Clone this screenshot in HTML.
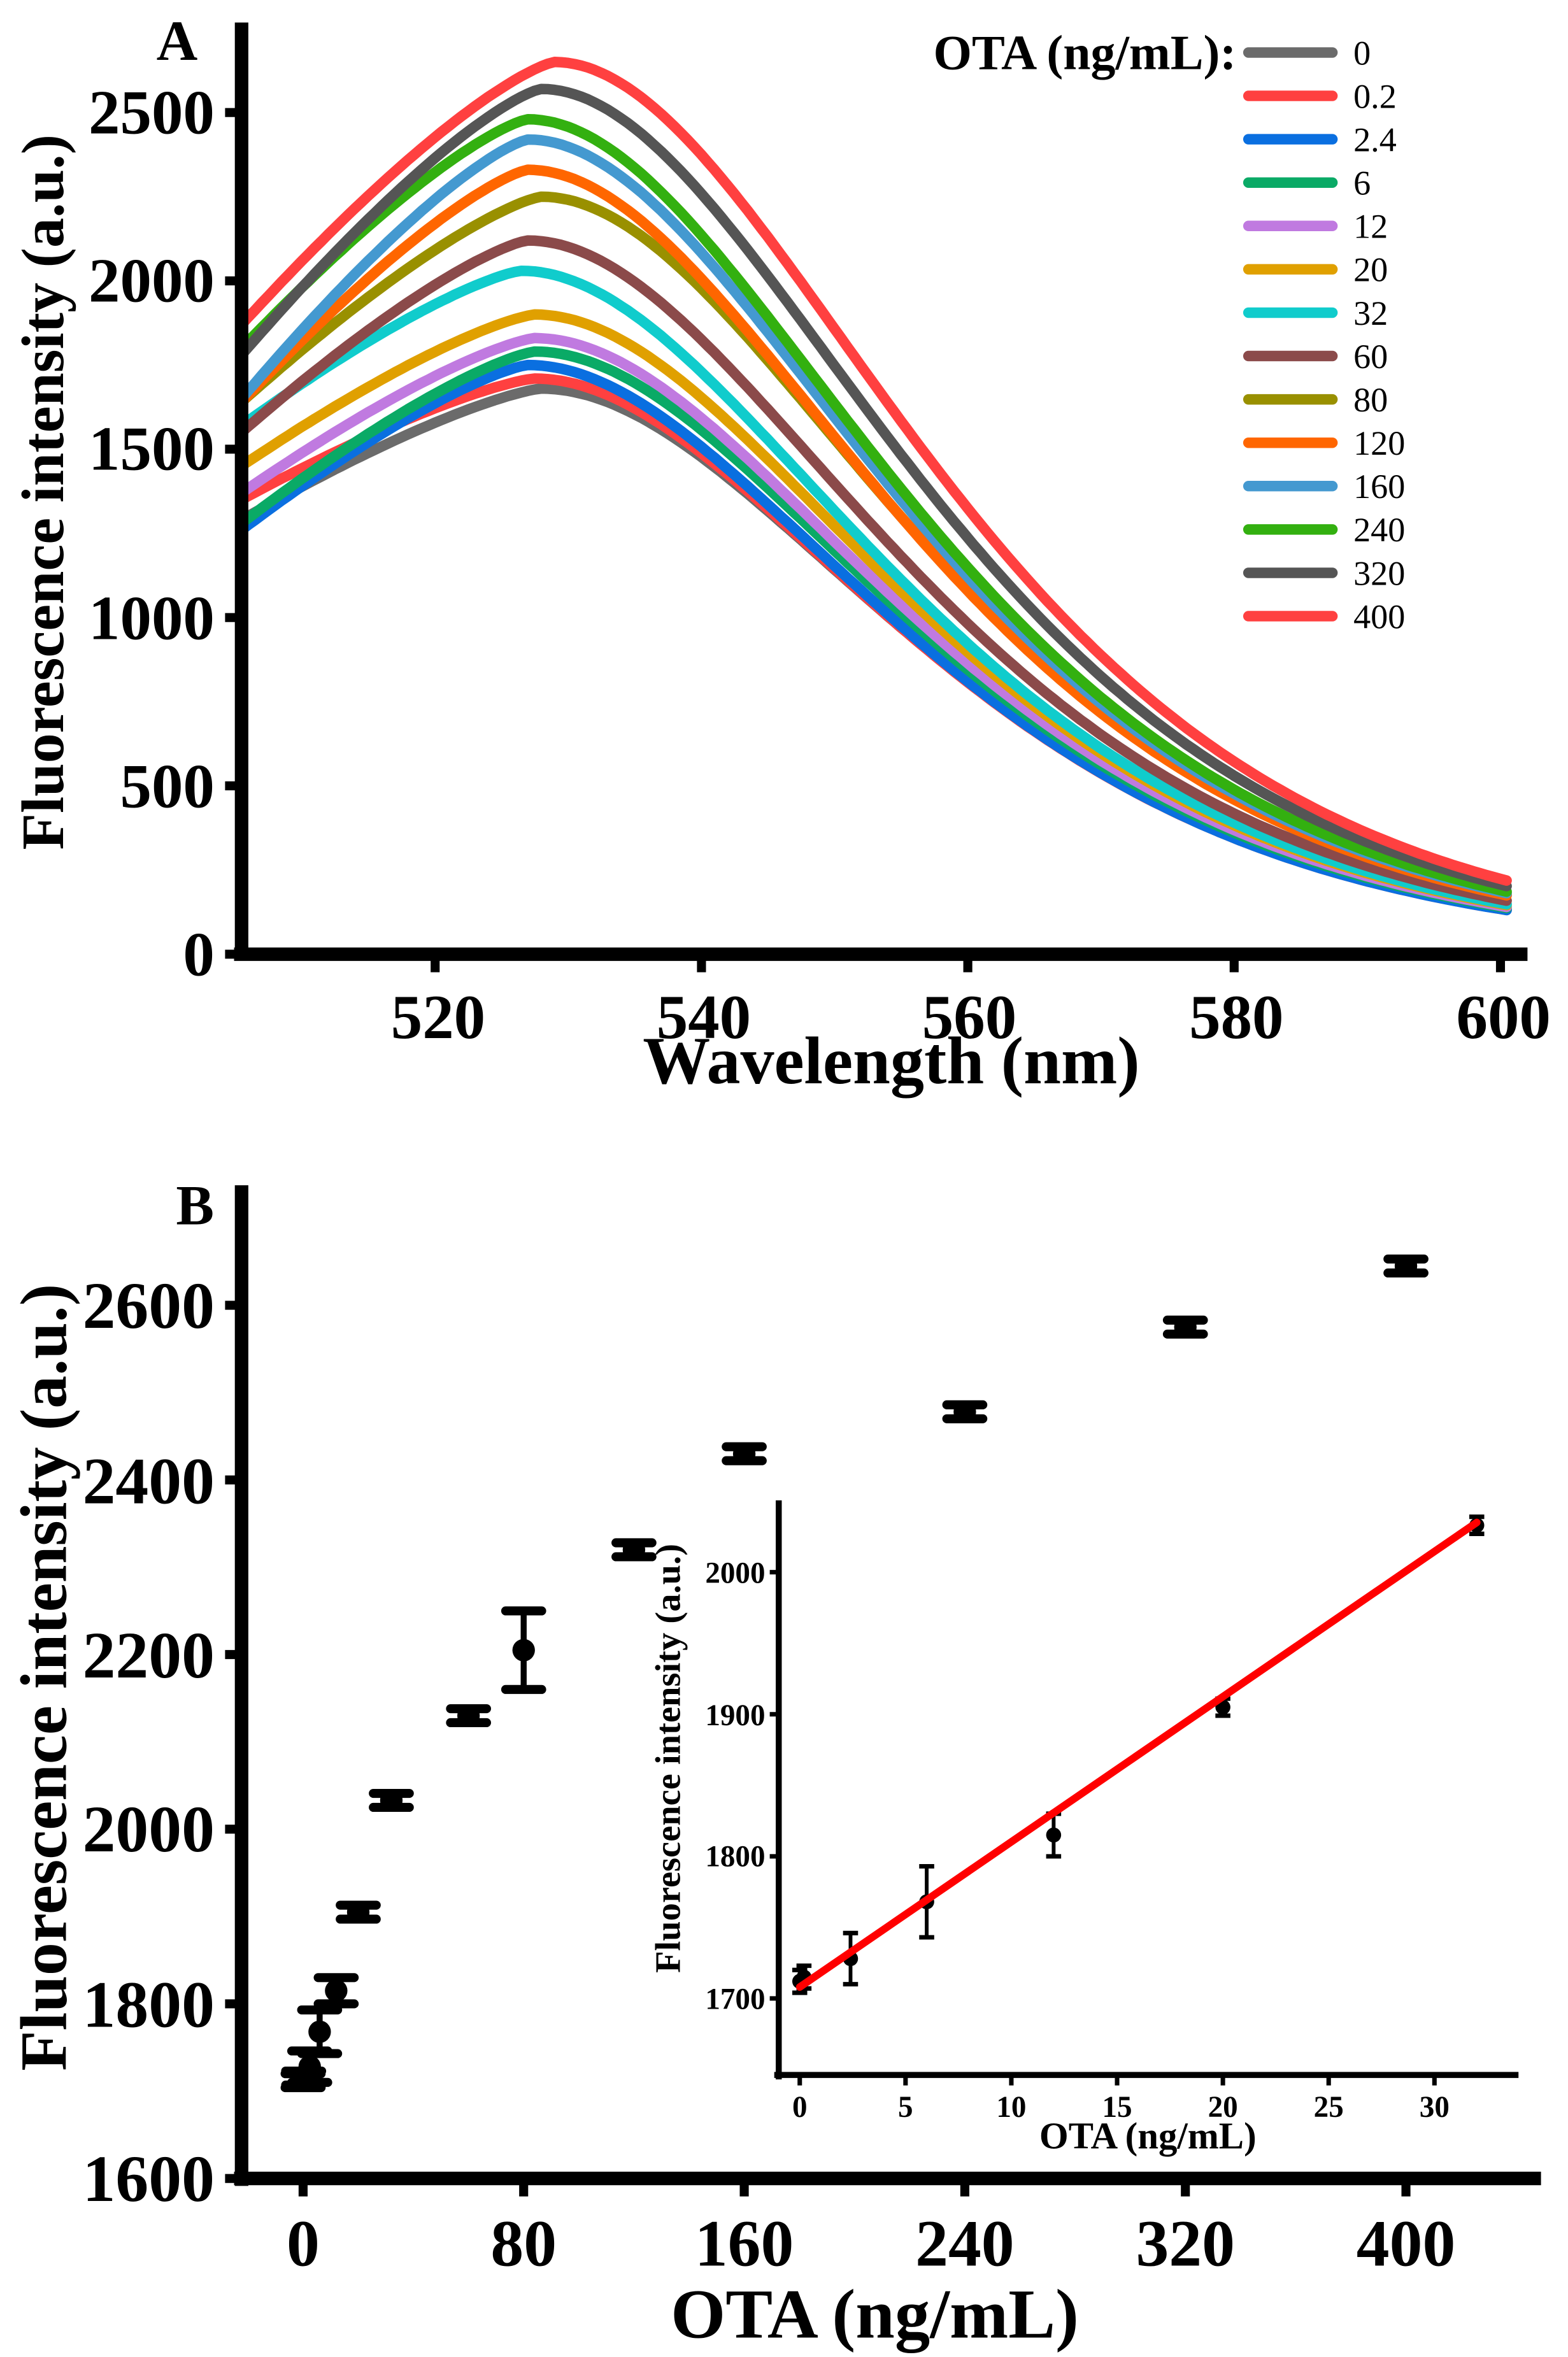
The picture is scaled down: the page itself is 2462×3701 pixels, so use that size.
<!DOCTYPE html>
<html><head><meta charset="utf-8"><style>
html,body{margin:0;padding:0;background:#fff;}
svg{display:block;}
text{font-family:"Liberation Serif","Times New Roman",serif;font-weight:bold;fill:#000;}
</style></head><body>
<svg id="s" width="2462" height="3701" viewBox="0 0 1045 1571" preserveAspectRatio="none" xmlns="http://www.w3.org/2000/svg">
<rect width="1045" height="1571" fill="#fff"/>
<g id="curves" fill="none" stroke-width="7" stroke-linejoin="round" stroke-linecap="round"></g>
<line x1="161" y1="15" x2="161" y2="640" stroke="#000" stroke-width="9"/>
<line x1="156" y1="636" x2="1018" y2="636" stroke="#000" stroke-width="9"/>
<g stroke="#000" stroke-width="6">
<line x1="150" y1="636" x2="161" y2="636"/><line x1="150" y1="523.8" x2="161" y2="523.8"/><line x1="150" y1="411.6" x2="161" y2="411.6"/><line x1="150" y1="299.4" x2="161" y2="299.4"/><line x1="150" y1="187.2" x2="161" y2="187.2"/><line x1="150" y1="75" x2="161" y2="75"/>
<line x1="290" y1="636" x2="290" y2="648"/><line x1="467.5" y1="636" x2="467.5" y2="648"/><line x1="645" y1="636" x2="645" y2="648"/><line x1="822.5" y1="636" x2="822.5" y2="648"/><line x1="1000" y1="636" x2="1000" y2="648"/>
</g>
<g font-size="42" text-anchor="end">
<text x="143" y="650">0</text><text x="143" y="538">500</text><text x="143" y="426">1000</text><text x="143" y="313">1500</text><text x="143" y="201">2000</text><text x="143" y="89">2500</text>
</g>
<g font-size="42" text-anchor="middle">
<text x="292" y="692">520</text><text x="469" y="692">540</text><text x="646" y="692">560</text><text x="824" y="692">580</text><text x="1002" y="692">600</text>
</g>
<text x="594" y="722" font-size="45" text-anchor="middle">Wavelength (nm)</text>
<text transform="translate(42,328) rotate(-90)" font-size="40" text-anchor="middle">Fluorescence intensity (a.u.)</text>
<text x="118" y="40" font-size="38" text-anchor="middle">A</text>
<text x="824" y="46" font-size="33" text-anchor="end">OTA (ng/mL):</text>
<g id="legend" stroke-width="7" stroke-linecap="round"></g>

<line x1="161" y1="790" x2="161" y2="1457" stroke="#000" stroke-width="9"/>
<line x1="156" y1="1452" x2="1027" y2="1452" stroke="#000" stroke-width="9"/>
<g id="bticks" stroke="#000" stroke-width="6"></g>
<g font-size="44" text-anchor="end">
<text x="143" y="1467">1600</text><text x="143" y="1351">1800</text><text x="143" y="1234">2000</text><text x="143" y="1118">2200</text><text x="143" y="1002">2400</text><text x="143" y="885">2600</text>
</g>
<g font-size="44" text-anchor="middle">
<text x="202" y="1510">0</text><text x="349" y="1510">80</text><text x="496" y="1510">160</text><text x="643" y="1510">240</text><text x="790" y="1510">320</text><text x="937" y="1510">400</text>
</g>
<text x="583" y="1558" font-size="47" text-anchor="middle">OTA (ng/mL)</text>
<text transform="translate(44,1118) rotate(-90)" font-size="44" text-anchor="middle">Fluorescence intensity (a.u.)</text>
<text x="130" y="816" font-size="38" text-anchor="middle">B</text>
<g id="bpts"></g>

<line x1="519" y1="1000" x2="519" y2="1386" stroke="#000" stroke-width="4"/>
<line x1="516" y1="1383" x2="1012" y2="1383" stroke="#000" stroke-width="4"/>
<g id="iticks" stroke="#000" stroke-width="3"></g>
<g font-size="20" text-anchor="end">
<text x="510" y="1339">1700</text><text x="510" y="1244">1800</text><text x="510" y="1150">1900</text><text x="510" y="1055">2000</text>
</g>
<g font-size="20" text-anchor="middle" id="ixl"></g>
<text x="765" y="1432" font-size="25" text-anchor="middle">OTA (ng/mL)</text>
<text transform="translate(453,1172) rotate(-90)" font-size="24" text-anchor="middle">Fluorescence intensity (a.u.)</text>
<g id="ipts"></g>
</svg>
<script>
var NS="http://www.w3.org/2000/svg";
function el(p,t,a){var e=document.createElementNS(NS,t);for(var k in a)e.setAttribute(k,a[k]);p.appendChild(e);return e;}
var series=[
["0","#6b6b6b",1290,1680,527.5],
["0.2","#ff4040",1350,1710,527],
["2.4","#0a6fe0",1260,1750,526.5],
["6","#0aaa66",1280,1790,527],
["12","#c07ae0",1370,1830,527],
["20","#e0a000",1450,1900,527],
["32","#10cccc",1570,2030,526],
["60","#8b4a4a",1550,2120,526.5],
["80","#999000",1640,2250,527.5],
["120","#ff6600",1640,2330,526.5],
["160","#4499d0",1650,2420,526.5],
["240","#33b010",1800,2480,526.5],
["320","#555555",1780,2570,527.5],
["400","#ff4040",1870,2650,528.5]];
function X(w){return 161+(w-505)*8.875;}
function Y(v){return 636-v*0.2244;}
var cg=document.getElementById("curves");
series.forEach(function(s){
 var st=s[2],pk=s[3],pw=s[4],d="";
 for(var w=505;w<=600.01;w+=0.5){
  var v;
  if(w<=pw){var u=(pw-w)/(pw-505);v=pk-(pk-st)*Math.pow(u,1.3);}
  else{var t=w-pw;var sg=22+0.14*t;v=pk*Math.exp(-t*t/(2*sg*sg));}
  d+=(d?"L":"M")+X(w).toFixed(1)+" "+Y(v).toFixed(1);
 }
 el(cg,"path",{d:d,stroke:s[1]});
});
var lg=document.getElementById("legend");
series.forEach(function(s,i){
 var y=35+i*28.9;
 el(lg,"line",{x1:832,y1:y,x2:888,y2:y,stroke:s[1]});
 var t=el(document.getElementById("s"),"text",{x:902,y:y+8,"font-size":23,style:"font-weight:normal"});t.textContent=s[0];
});
var bt=document.getElementById("bticks");
[1452,1335.6,1219.2,1102.8,986.4,870].forEach(function(y){el(bt,"line",{x1:150,y1:y,x2:161,y2:y});});
[202,349,496,643,790,937].forEach(function(x){el(bt,"line",{x1:x,y1:1452,x2:x,y2:1464});});
var data=[[0,1712,8],[0.2,1715,8],[2.4,1728,18],[6,1768,25],[12,1815,15],[20,1905,6],[32,2033,6],[60,2130,8],[80,2205,45],[120,2320,6],[160,2430,5],[240,2478,5],[320,2575,6],[400,2645,5]];
function BX(c){return 202+c*1.8375;}function BY(v){return 1452-(v-1600)*0.582;}
var bp=document.getElementById("bpts");
data.forEach(function(d){
 var x=BX(d[0]),y=BY(d[1]),e=Math.max(d[2],8)*0.582;
 el(bp,"line",{x1:x,y1:y-e,x2:x,y2:y+e,stroke:"#000","stroke-width":4});
 el(bp,"line",{x1:x-12,y1:y-e,x2:x+12,y2:y-e,stroke:"#000","stroke-width":6,"stroke-linecap":"round"});
 el(bp,"line",{x1:x-12,y1:y+e,x2:x+12,y2:y+e,stroke:"#000","stroke-width":6,"stroke-linecap":"round"});
 el(bp,"circle",{cx:x,cy:y,r:7.5,fill:"#000"});
});
function IX(c){return 533+c*14.1;}function IY(v){return 1332-(v-1700)*0.947;}
var it=document.getElementById("iticks");
[1700,1800,1900,2000].forEach(function(v){el(it,"line",{x1:513,y1:IY(v),x2:519,y2:IY(v)});});
var ixl=document.getElementById("ixl");
[0,5,10,15,20,25,30].forEach(function(c){el(it,"line",{x1:IX(c),y1:1383,x2:IX(c),y2:1390});var t=el(ixl,"text",{x:IX(c),y:1411});t.textContent=c;});
var ip=document.getElementById("ipts");
data.slice(0,7).forEach(function(d){
 var x=IX(d[0]),y=IY(d[1]),e=d[2]*0.947;
 el(ip,"line",{x1:x,y1:y-e,x2:x,y2:y+e,stroke:"#000","stroke-width":2.5});
 el(ip,"line",{x1:x-5,y1:y-e,x2:x+5,y2:y-e,stroke:"#000","stroke-width":3});
 el(ip,"line",{x1:x-5,y1:y+e,x2:x+5,y2:y+e,stroke:"#000","stroke-width":3});
 el(ip,"circle",{cx:x,cy:y,r:5,fill:"#000"});
});
el(ip,"line",{x1:IX(0),y1:IY(1708),x2:IX(32),y2:IY(2035),stroke:"#ff0000","stroke-width":5,"stroke-linecap":"round"});
</script>
</body></html>
